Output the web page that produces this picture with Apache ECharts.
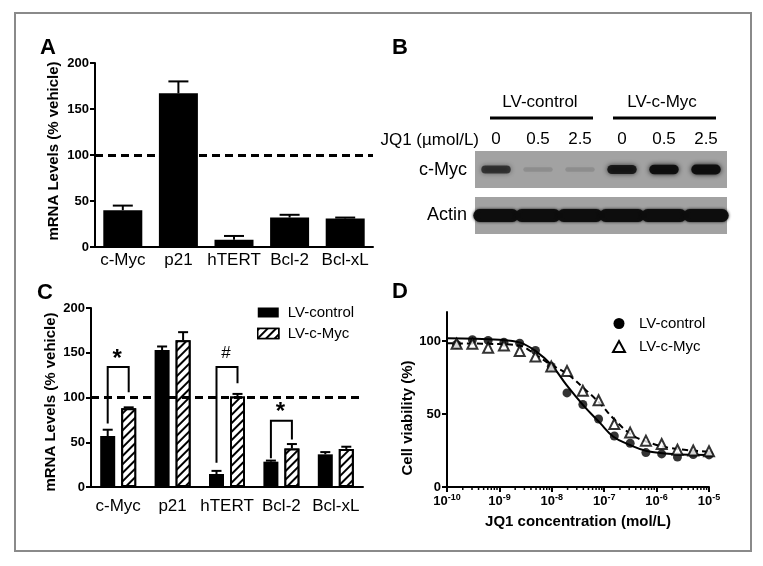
<!DOCTYPE html>
<html><head><meta charset="utf-8">
<script src="https://cdn.jsdelivr.net/npm/echarts@6/dist/echarts.min.js"></script>
<style>html,body{margin:0;padding:0;background:#fff}#c{width:763px;height:566px}</style>
</head><body><div id="c"></div>
<script>
// ---------- data ----------
const genes = ['c-Myc', 'p21', 'hTERT', 'Bcl-2', 'Bcl-xL'];
const aMean = [40, 167, 8, 32, 31];
const aErrTop = [45, 180, 12, 35, 32];
const mrnaTicks = [0, 50, 100, 150, 200];
const vehicleLevel = 100;

const cCtrlMean = [57, 153, 14.5, 28.3, 36.5];
const cCtrlErrTop = [64, 157, 18, 29.5, 39];
const cMycMean = [88, 164, 101, 43, 42.5];
const cMycErrTop = [89, 173, 104, 48, 45];
const sigCats = [0, 2, 3];
const sigTop = [134, 134, 74];
const sigLeftEnd = [71, 27, 32];
const sigRightEnd = [106, 116, 53];
const sigMarks = ['*', '#', '*'];

const laneDoses = ['0', '0.5', '2.5', '0', '0.5', '2.5'];
const blotGroups = ['LV-control', 'LV-c-Myc'];
const cMycBand = [0.66, 0.12, 0.12, 0.85, 0.95, 0.97];
const actinBand = [1, 1, 1, 1, 1, 1];

const jq1Conc = [1.526e-10, 3.05e-10, 6.1e-10, 1.22e-9, 2.44e-9, 4.88e-9, 9.77e-9, 1.95e-8, 3.91e-8, 7.81e-8, 1.56e-7, 3.13e-7, 6.25e-7, 1.25e-6, 2.5e-6, 5e-6, 1e-5];
const viabCtrl = [97.7, 101, 100.5, 99.3, 98.6, 93.6, 82.7, 64.5, 56.6, 46.6, 35, 30, 23.6, 22.7, 20.5, 22.3, 22];
const viabMyc = [98.2, 98.2, 95.5, 97, 93.2, 89.5, 82.7, 79.5, 66, 59.5, 43.2, 37.3, 31.8, 29.5, 25.5, 25, 24.5];
const fitConc = [1e-10, 1e-9, 2.5e-9, 5e-9, 1e-8, 1.9e-8, 4e-8, 8.3e-8, 1.5e-7, 3.1e-7, 6.5e-7, 2e-6, 1e-5];
const fitCtrl = [102, 101, 99, 93, 83.5, 70, 56, 44, 34.5, 28.8, 24.7, 22.6, 22];
const fitMyc = [98.5, 98, 96.8, 90.5, 83.5, 78, 68, 57.3, 47, 36.7, 31, 26.5, 24.2];
const viabTicks = [0, 50, 100];
const decades = [1e-10, 1e-9, 1e-8, 1e-7, 1e-6];
const minorMult = [2, 3, 4, 5, 6, 7, 8, 9];

// ---------- helpers ----------
const FF = '"Liberation Sans", Arial, sans-serif';
const hatch = { symbol: 'rect', symbolSize: 1, color: '#000', backgroundColor: '#fff', dashArrayX: [1, 0], dashArrayY: [1.6, 3.4], rotation: -Math.PI / 4 };

function errBar(offset, half) {
  return function (params, api) {
    const c0 = api.coord([api.value(0), api.value(1)]);
    const c1 = api.coord([api.value(0), api.value(2)]);
    const x = c0[0] + offset;
    return { type: 'group', children: [
      { type: 'line', shape: { x1: x, y1: c0[1], x2: x, y2: c1[1] }, style: { stroke: '#000', lineWidth: 2 } },
      { type: 'line', shape: { x1: x - half, y1: c1[1], x2: x + half, y2: c1[1] }, style: { stroke: '#000', lineWidth: 2 } }
    ] };
  };
}
function bandRender(isActin) {
  return function (params, api) {
    const inten = api.value(1);
    const c = api.coord([api.value(0), 0.5]);
    const w = api.size([1, 0])[0];
    const bw = isActin ? w * 1.08 : w * 0.7;
    const bh = isActin ? 13 : 4 + 6 * inten;
    const col = 'rgba(12,12,12,' + (isActin ? 0.96 : inten) + ')';
    return { type: 'rect', shape: { x: c[0] - bw / 2, y: c[1] - bh / 2, width: bw, height: bh, r: bh / 2 },
      style: { fill: col, shadowBlur: isActin ? 3 : 5, shadowColor: col } };
  };
}
const catAxisCommon = {
  type: 'category', data: genes,
  axisLine: { lineStyle: { color: '#000', width: 2 } },
  axisTick: { alignWithLabel: true, length: 5, lineStyle: { color: '#000', width: 2 } },
  axisLabel: { color: '#000', fontSize: 17, fontFamily: FF, interval: 0 }
};
const mrnaAxis = {
  type: 'value', min: 0, max: 200, interval: 50,
  name: 'mRNA Levels (% vehicle)', nameLocation: 'middle', nameGap: 34,
  nameTextStyle: { color: '#000', fontSize: 15, fontWeight: 'bold', fontFamily: FF },
  axisLine: { show: true, lineStyle: { color: '#000', width: 2 } },
  axisTick: { show: true, length: 5, lineStyle: { color: '#000', width: 2 } },
  axisLabel: { color: '#000', fontSize: 13, fontWeight: 'bold', fontFamily: FF, margin: 6 },
  splitLine: { show: false }
};
const refLine = { silent: true, symbol: 'none', label: { show: false }, lineStyle: { type: [8, 5], width: 3, color: '#000' }, data: [{ yAxis: vehicleLevel }] };

const minorTickData = [];
decades.forEach(d => minorMult.forEach(m => minorTickData.push([d * m, 0])));

const option = {
  animation: false,
  backgroundColor: '#fff',
  grid: [
    { left: 95, top: 63, width: 278, height: 184 },
    { left: 91, top: 308, width: 272, height: 179 },
    { left: 475, top: 151, width: 252, height: 37, show: true, backgroundColor: '#a2a2a2', borderWidth: 0 },
    { left: 475, top: 197, width: 252, height: 37, show: true, backgroundColor: '#a2a2a2', borderWidth: 0 },
    { left: 447, top: 312, width: 262, height: 175 }
  ],
  xAxis: [
    Object.assign({}, catAxisCommon, { gridIndex: 0, axisLabel: Object.assign({}, catAxisCommon.axisLabel, { margin: 5 }) }),
    Object.assign({}, catAxisCommon, { gridIndex: 1, axisLabel: Object.assign({}, catAxisCommon.axisLabel, { margin: 11 }) }),
    { type: 'category', gridIndex: 2, data: laneDoses, position: 'top', axisLine: { show: false }, axisTick: { show: false },
      axisLabel: { color: '#000', fontSize: 17, fontFamily: FF, margin: 3, interval: 0 } },
    { type: 'category', gridIndex: 3, data: laneDoses, show: false },
    { type: 'log', gridIndex: 4, min: 1e-10, max: 1e-5, logBase: 10,
      name: 'JQ1 concentration (mol/L)', nameLocation: 'middle', nameGap: 27,
      nameTextStyle: { color: '#000', fontSize: 15, fontWeight: 'bold', fontFamily: FF },
      axisLine: { lineStyle: { color: '#000', width: 2 } },
      axisTick: { length: 5, lineStyle: { color: '#000', width: 2 } },
      splitLine: { show: false }, minorTick: { show: false },
      axisLabel: { margin: 6, formatter: v => '{b|10}{s|' + Math.round(Math.log10(v)) + '}',
        rich: { b: { fontSize: 13, fontWeight: 'bold', fontFamily: FF, color: '#000' },
                s: { fontSize: 9, fontWeight: 'bold', fontFamily: FF, color: '#000', padding: [0, 0, 7, 0] } } } }
  ],
  yAxis: [
    Object.assign({}, mrnaAxis, { gridIndex: 0, nameTextStyle: Object.assign({}, mrnaAxis.nameTextStyle, { padding: [0, 0, 0, 8] }) }),
    Object.assign({}, mrnaAxis, { gridIndex: 1, nameGap: 33, nameTextStyle: Object.assign({}, mrnaAxis.nameTextStyle, { padding: [0, 9, 0, 0] }) }),
    { type: 'value', gridIndex: 2, min: 0, max: 1, show: false },
    { type: 'value', gridIndex: 3, min: 0, max: 1, show: false },
    { type: 'value', gridIndex: 4, min: 0, max: 120, interval: 50,
      name: 'Cell viability (%)', nameLocation: 'middle', nameGap: 32,
      nameTextStyle: { color: '#000', fontSize: 15, fontWeight: 'bold', fontFamily: FF, padding: [0, 37, 0, 0] },
      axisLine: { show: true, lineStyle: { color: '#000', width: 2 } },
      axisTick: { show: true, length: 5, lineStyle: { color: '#000', width: 2 }, customValues: viabTicks },
      axisLabel: { color: '#000', fontSize: 13, fontWeight: 'bold', fontFamily: FF, margin: 6, customValues: viabTicks },
      splitLine: { show: false } }
  ],
  legend: [
    { left: 252, top: 300, orient: 'vertical', itemWidth: 21, itemHeight: 10, itemGap: 6, selectedMode: false,
      textStyle: { fontSize: 15, color: '#000', fontFamily: FF, padding: [0, 0, 0, 4] },
      data: [
        { name: 'LV-control', icon: 'rect', itemStyle: { color: '#000', borderWidth: 0, decal: 'none' } },
        { name: 'LV-c-Myc', icon: 'rect', itemStyle: { color: '#fff', borderColor: '#000', borderWidth: 1.5, decal: hatch } }
      ] },
    { left: 607, top: 311, orient: 'vertical', itemWidth: 12, itemHeight: 11, itemGap: 8, selectedMode: false,
      textStyle: { fontSize: 15, color: '#000', fontFamily: FF, padding: [0, 0, 0, 9] },
      data: [
        { name: 'LV-control', icon: 'circle', itemStyle: { color: '#000', borderWidth: 0, decal: 'none' } },
        { name: 'LV-c-Myc', icon: 'triangle', itemStyle: { color: '#fff', borderColor: '#000', borderWidth: 2, decal: 'none' } }
      ] }
  ],
  series: [
    { type: 'bar', xAxisIndex: 0, yAxisIndex: 0, data: aMean, barWidth: 39, itemStyle: { color: '#000' }, markLine: refLine, z: 2 },
    { type: 'custom', xAxisIndex: 0, yAxisIndex: 0, data: genes.map((g, i) => [i, aMean[i], aErrTop[i]]), renderItem: errBar(0, 10), z: 3 },

    { type: 'bar', name: 'LV-control', xAxisIndex: 1, yAxisIndex: 1, data: cCtrlMean, barWidth: 15, barGap: '40%', itemStyle: { color: '#000' }, markLine: refLine, z: 2 },
    { type: 'bar', name: 'LV-c-Myc', xAxisIndex: 1, yAxisIndex: 1, data: cMycMean, barWidth: 15, barGap: '40%',
      itemStyle: { color: '#fff', borderColor: '#000', borderWidth: 2, decal: hatch }, z: 2 },
    { type: 'custom', xAxisIndex: 1, yAxisIndex: 1, data: genes.map((g, i) => [i, cCtrlMean[i], cCtrlErrTop[i]]), renderItem: errBar(-10.5, 5), z: 3 },
    { type: 'custom', xAxisIndex: 1, yAxisIndex: 1, data: genes.map((g, i) => [i, cMycMean[i], cMycErrTop[i]]), renderItem: errBar(10.5, 5), z: 3 },
    { type: 'custom', xAxisIndex: 1, yAxisIndex: 1, z: 4,
      data: sigCats.map((c, i) => [c, sigTop[i], sigLeftEnd[i], sigRightEnd[i]]),
      renderItem: function (params, api) {
        const cat = api.value(0);
        const top = api.coord([cat, api.value(1)]);
        const lb = api.coord([cat, api.value(2)]);
        const rb = api.coord([cat, api.value(3)]);
        const xl = top[0] - 10.5, xr = top[0] + 10.5;
        const mark = sigMarks[params.dataIndex];
        const isStar = mark === '*';
        return { type: 'group', children: [
          { type: 'polyline', shape: { points: [[xl, lb[1]], [xl, top[1]], [xr, top[1]], [xr, rb[1]]] }, style: { stroke: '#000', lineWidth: 2, fill: null } },
          { type: 'text', x: top[0] - 1, y: top[1] - (isStar ? 8 : 14), style: { text: mark, fontSize: isStar ? 24 : 17, fontWeight: isStar ? 'bold' : 'normal', fontFamily: FF, fill: '#000', textAlign: 'center', textVerticalAlign: 'middle' } }
        ] };
      } },

    { type: 'custom', xAxisIndex: 2, yAxisIndex: 2, data: cMycBand.map((v, i) => [i, v]), renderItem: bandRender(false) },
    { type: 'custom', xAxisIndex: 3, yAxisIndex: 3, data: actinBand.map((v, i) => [i, v]), renderItem: bandRender(true) },

    { type: 'line', xAxisIndex: 4, yAxisIndex: 4, data: fitConc.map((x, i) => [x, fitCtrl[i]]), smooth: 0.4, showSymbol: false, symbol: 'none',
      lineStyle: { color: '#000', width: 2 }, z: 2, silent: true },
    { type: 'line', xAxisIndex: 4, yAxisIndex: 4, data: fitConc.map((x, i) => [x, fitMyc[i]]), smooth: 0.4, showSymbol: false, symbol: 'none',
      lineStyle: { color: '#000', width: 2, type: [6, 4] }, z: 2, silent: true },
    { type: 'scatter', name: 'LV-control', xAxisIndex: 4, yAxisIndex: 4, data: jq1Conc.map((x, i) => [x, viabCtrl[i]]),
      symbol: 'circle', symbolSize: 9, itemStyle: { color: '#000' }, z: 4 },
    { type: 'scatter', name: 'LV-c-Myc', xAxisIndex: 4, yAxisIndex: 4, data: jq1Conc.map((x, i) => [x, viabMyc[i]]),
      symbol: 'triangle', symbolSize: 10, itemStyle: { color: '#fff', borderColor: '#000', borderWidth: 2 }, z: 5 },
    { type: 'custom', xAxisIndex: 4, yAxisIndex: 4, data: minorTickData, clip: false, silent: true,
      renderItem: function (params, api) {
        const p = api.coord([api.value(0), 0]);
        return { type: 'line', shape: { x1: p[0], y1: p[1], x2: p[0], y2: p[1] + 3 }, style: { stroke: '#000', lineWidth: 1.5 } };
      } }
  ],
  graphic: [
    { type: 'rect', shape: { x: 15, y: 13, width: 736, height: 538 }, style: { fill: null, stroke: '#8a8a8a', lineWidth: 2 }, silent: true },
    { type: 'text', x: 48, y: 48, style: { text: 'A', fontSize: 22, fontWeight: 'bold', fontFamily: FF, fill: '#000', textAlign: 'center', textVerticalAlign: 'middle' } },
    { type: 'text', x: 400, y: 48, style: { text: 'B', fontSize: 22, fontWeight: 'bold', fontFamily: FF, fill: '#000', textAlign: 'center', textVerticalAlign: 'middle' } },
    { type: 'text', x: 45, y: 293, style: { text: 'C', fontSize: 22, fontWeight: 'bold', fontFamily: FF, fill: '#000', textAlign: 'center', textVerticalAlign: 'middle' } },
    { type: 'text', x: 400, y: 292, style: { text: 'D', fontSize: 22, fontWeight: 'bold', fontFamily: FF, fill: '#000', textAlign: 'center', textVerticalAlign: 'middle' } },
    { type: 'text', x: 540, y: 102, style: { text: blotGroups[0], fontSize: 17, fontFamily: FF, fill: '#000', textAlign: 'center', textVerticalAlign: 'middle' } },
    { type: 'text', x: 662, y: 102, style: { text: blotGroups[1], fontSize: 17, fontFamily: FF, fill: '#000', textAlign: 'center', textVerticalAlign: 'middle' } },
    { type: 'rect', shape: { x: 490, y: 116.5, width: 103, height: 3 }, style: { fill: '#000' } },
    { type: 'rect', shape: { x: 613, y: 116.5, width: 103, height: 3 }, style: { fill: '#000' } },
    { type: 'text', x: 479, y: 140, style: { text: 'JQ1 (µmol/L)', fontSize: 17, fontFamily: FF, fill: '#000', textAlign: 'right', textVerticalAlign: 'middle' } },
    { type: 'text', x: 467, y: 170, style: { text: 'c-Myc', fontSize: 18, fontFamily: FF, fill: '#000', textAlign: 'right', textVerticalAlign: 'middle' } },
    { type: 'text', x: 467, y: 215, style: { text: 'Actin', fontSize: 18, fontFamily: FF, fill: '#000', textAlign: 'right', textVerticalAlign: 'middle' } }
  ]
};
const chart = echarts.init(document.getElementById('c'), null, { renderer: 'canvas' });
chart.setOption(option);
</script>
</body></html>
